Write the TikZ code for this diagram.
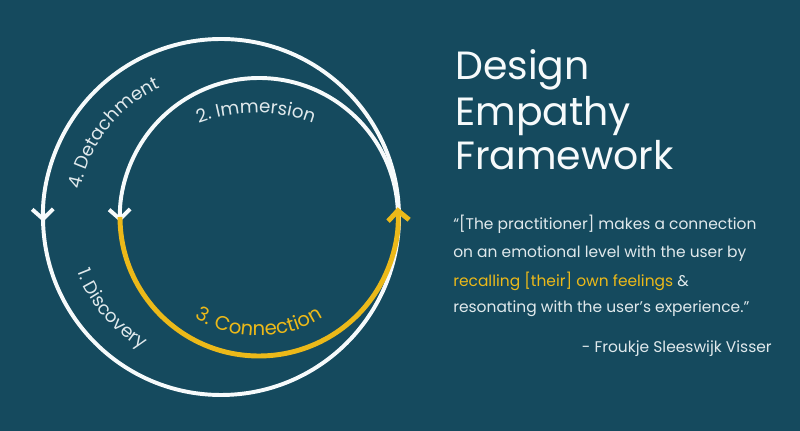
\documentclass[tikz,border=0pt]{standalone}
\usepackage{fontspec}
\setmainfont{Poppins}
\usetikzlibrary{arrows.meta,calc,decorations.text}
\definecolor{deep}{RGB}{21,74,94}
\definecolor{gold}{RGB}{236,185,25}
\definecolor{pale}{RGB}{246,250,251}
\definecolor{mist}{RGB}{224,233,236}
\tikzset{
  >={Straight Barb[length=7pt,width=15pt]},
  ring/.style={draw=pale,line width=2.8pt},
  goldring/.style={draw=gold,line width=3.5pt},
  title/.style={anchor=base west,inner sep=0pt,text=pale,font=\fontsize{28}{32}\selectfont},
  quote/.style={anchor=base west,inner sep=0pt,text=mist,font=\fontsize{11}{14}\selectfont},
  arclabel/.style={decoration={text along path,text align=center,text color=mist},postaction={decorate}}
}

\begin{document}
\begin{tikzpicture}[x=0.025cm,y=0.025cm]
\fill[deep](0,0)rectangle(800,431);
\coordinate(oc)at(221,214);
\coordinate(ic)at(259,214);
\coordinate(immc)at(256,153);
% cycle
\draw[ring,->]($(oc)+(0:178)$)arc[start angle=0,end angle=181.5,radius=178];
\draw[ring]($(oc)+(180:178)$)arc[start angle=180,end angle=360,radius=178];
\draw[ring,->]($(ic)+(0:139)$)arc[start angle=0,end angle=182,radius=139];
\draw[goldring,->]($(ic)+(180:139)$)arc[start angle=180,end angle=364,radius=139];
% stage names
\path[arclabel,decoration={text={|\fontsize{13}{15}\selectfont|4. Detachment}}]
  ($(oc)+(172:143)$)arc[start angle=172,end angle=112,radius=143];
\path[arclabel,decoration={text={|\fontsize{13}{15}\selectfont|1. Discovery}}]
  ($(oc)+(190:154)$)arc[start angle=190,end angle=250,radius=154];
\path[arclabel,decoration={text={|\fontsize{13}{15}\selectfont|2. Immersion}}]
  ($(immc)+(115:165)$)arc[start angle=115,end angle=65,radius=165];
\path[arclabel,decoration={text color=gold,text={|\fontsize{14}{16}\selectfont|3. Connection}}]
  ($(ic)+(235:119)$)arc[start angle=235,end angle=305,radius=119];
% heading and quote
\node[title](t1)at(455,351){Design};
\node[title](t2)at(455,305){Empathy};
\node[title](t3)at(455,261){Framework};
\node[quote](q1)at(453,201){“[The practitioner] makes a connection};
\node[quote](q2)at(453,173){on an emotional level with the user by};
\node[quote](q3)at(453,144){\textcolor{gold}{recalling [their] own feelings} \&};
\node[quote](q4)at(453,118){resonating with the user’s experience.”};
\node[quote,anchor=base east](src)at(772,78){- Froukje Sleeswijk Visser};
\end{tikzpicture}
\end{document}
